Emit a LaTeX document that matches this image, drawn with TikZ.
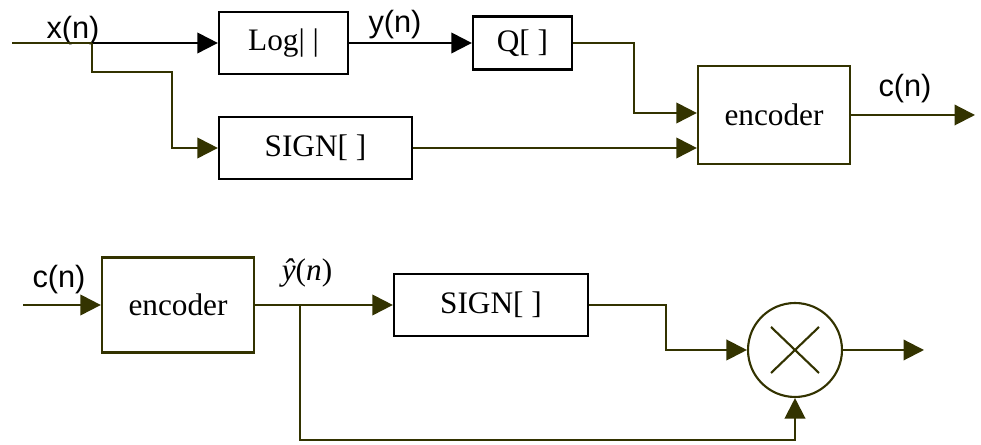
\documentclass[tikz,border=0pt]{standalone}
\usepackage{fontspec}
\setmainfont{Liberation Serif}
\setsansfont{Liberation Sans}
\usetikzlibrary{arrows.meta}
\definecolor{olivedk}{RGB}{51,51,0}

\begin{document}
\begin{tikzpicture} [
    x=0.02cm, y=0.02cm,
    font=\fontsize{17.8}{20}\selectfont,
    block/.style = { rectangle, draw=black, line width=1.3pt, inner sep=0pt,
                     minimum height=1.24cm },
    coder/.style = { block, draw=olivedk, minimum width=3.04cm },
    mult/.style  = { circle, draw=olivedk, line width=1.2pt,
                     minimum size=1.88cm, inner sep=0pt },
    sig/.style   = { font=\sffamily\fontsize{17.5}{20}\selectfont },
    line/.style  = { draw=olivedk, line width=1.2pt },
    arrow/.style = { line, -{Triangle[length=0.41cm, width=0.41cm]} },
  ]

\useasboundingbox (0,0) rectangle (981,445);

% compressor
\node [block, minimum width=2.58cm]                     (log) at (283.5,402) {Log| |};
\node [block, minimum width=1.98cm, minimum height=1.06cm] (q) at (522.5,402) {Q[ ]};
\node [block, minimum width=3.86cm]                     (sgn) at (315.5,297) {SIGN[ ]};
\node [coder, minimum height=1.96cm]                    (enc) at (774,330)   {encoder};

\coordinate (xin)    at (12,402);
\coordinate (xsplit) at (92,402);
\coordinate (xturn)  at (172,373);
\coordinate (qturn)  at (634,332);
\coordinate (cout)   at (975,330);

\node [sig] (xlab)  at (73,414.5)  {x(n)};
\node [sig] (ylab)  at (395,420.5) {y(n)};
\node [sig] (clab)  at (905,356)   {c(n)};

% decompressor
\node [coder, minimum height=1.9cm]     (dec)  at (178,140) {encoder};
\node [block, minimum width=3.88cm]     (sgnb) at (491,140) {SIGN[ ]};
\node [mult]                            (mul)  at (795,95)  {};

\coordinate (cin)    at (23,140);
\coordinate (ysplit) at (300,140);
\coordinate (fb)     at (300,5);
\coordinate (sturn)  at (666,95);
\coordinate (yout)   at (924,95);

\node [sig] (cinlab) at (59,165.5) {c(n)};
\node       (yhat)   at (307,171.5) {\textit{ŷ}(\textit{n})};

\draw [line] (xin) -- (xsplit);
\draw [arrow, draw=black] (xsplit) -- (log);
\draw [arrow] (xsplit) |- (xturn) |- (sgn.west);
\draw [arrow, draw=black] (log) -- (q);
\draw [arrow] (q.east) -| (qturn) -- (qturn -| enc.west);
\draw [arrow] (sgn.east) -- (sgn.east -| enc.west);
\draw [arrow] (enc) -- (cout);

\draw [arrow] (cin) -- (dec);
\draw [arrow] (dec) -- (sgnb);
\draw [arrow] (ysplit) -- (fb) -| (mul.south);
\draw [arrow] (sgnb.east) -| (sturn) -- (mul);
\draw [arrow] (mul) -- (yout);
\draw [line] (mul.center) +(-24,-23) -- +(24,23) +(-24,23) -- +(24,-23);

\end{tikzpicture}
\end{document}
